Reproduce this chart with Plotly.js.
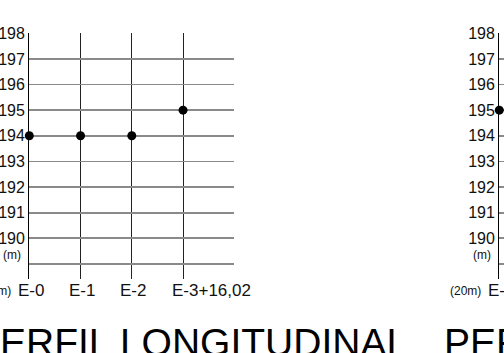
<!DOCTYPE html>
<html>
<head>
<meta charset="utf-8">
<script src="https://cdn.plot.ly/plotly-3.0.1.min.js"></script>
<style>html,body{margin:0;padding:0;background:#fff;}#chart{width:504px;height:353px;}</style>
</head>
<body>
<div id="chart"></div>
<script>
// Data
var stations = ['E-0', 'E-1', 'E-2', 'E-3+16,02'];
var stationPos = [0, 1, 2, 3];
var elevations = [194, 194, 194, 195];
var rightStations = ['E-0'];
var rightPos = [0];
var rightElevations = [195];
var yTickVals = [189, 190, 191, 192, 193, 194, 195, 196, 197, 198];
var yTickText = ['', '190', '191', '192', '193', '194', '195', '196', '197', '198'];
var titleText = 'PERFIL LONGITUDINAL';
var yUnit = '(m)';
var xUnit = '(20m)';

var W = 504, H = 353;
var ax1 = 29.3, ax1r = 234.3, ax2 = 499.3;
var pxPerX = (ax1r - ax1) / 4;
var yTop = 33.3, yBot = 279.3;
var font = '"Liberation Sans", Arial, sans-serif';

var yDom = [1 - yBot / H, 1 - yTop / H];
var yRange = [188.4, 198];

var traces = [
  {x: stationPos, y: elevations, xaxis: 'x', yaxis: 'y', mode: 'markers', type: 'scatter',
   marker: {color: '#000', size: 9}, cliponaxis: false, hoverinfo: 'skip'},
  {x: rightPos, y: rightElevations, xaxis: 'x2', yaxis: 'y2', mode: 'markers', type: 'scatter',
   marker: {color: '#000', size: 9}, cliponaxis: false, hoverinfo: 'skip'}
];

function yAxis(anchor) {
  return {
    domain: yDom, range: yRange, anchor: anchor,
    tickmode: 'array', tickvals: yTickVals, ticktext: yTickText,
    showgrid: true, gridcolor: '#8a8a8a', gridwidth: 1.8,
    showline: true, linecolor: '#000', linewidth: 1.2,
    ticks: '', ticklabelstandoff: 1.5,
    tickfont: {family: font, size: 16, color: '#111'},
    zeroline: false, fixedrange: true
  };
}
function xAxis(domain, range, anchor) {
  return {
    domain: domain, range: range, anchor: anchor,
    tickmode: 'array', tickvals: stationPos, showticklabels: false,
    showgrid: true, gridcolor: '#222', gridwidth: 1.1,
    showline: false, zeroline: false, ticks: '', fixedrange: true
  };
}

var annotations = [];
function panelAnnots(axisPx, labels, positions, xref) {
  labels.forEach(function (lab, i) {
    annotations.push({xref: xref, yref: 'paper', x: positions[i], y: 1 - 290 / H,
      xanchor: 'left', yanchor: 'middle', xshift: -13.5, text: lab, showarrow: false,
      font: {family: font, size: 17, color: '#111'}});
  });
  annotations.push({xref: 'paper', yref: 'paper', x: (axisPx - 16) / W, y: 1 - 291 / H,
    xanchor: 'right', yanchor: 'middle', text: xUnit, showarrow: false,
    font: {family: font, size: 12, color: '#111'}});
  annotations.push({xref: 'paper', yref: 'paper', x: (axisPx - 17) / W, y: 1 - 255 / H,
    xanchor: 'center', yanchor: 'middle', text: yUnit, showarrow: false,
    font: {family: font, size: 12, color: '#111'}});
  annotations.push({xref: 'paper', yref: 'paper', x: (axisPx - 57) / W, y: 1 - 319 / H,
    xanchor: 'left', yanchor: 'top', text: titleText, showarrow: false,
    font: {family: font, size: 39, color: '#000'}});
}
panelAnnots(ax1, stations, stationPos, 'x');
panelAnnots(ax2, rightStations, rightPos, 'x2');

var layout = {
  width: W, height: H,
  margin: {l: 0, r: 0, t: 0, b: 0},
  paper_bgcolor: '#fff', plot_bgcolor: 'rgba(0,0,0,0)',
  showlegend: false,
  xaxis: xAxis([ax1 / W, ax1r / W], [0, 4], 'y'),
  yaxis: yAxis('x'),
  xaxis2: xAxis([ax2 / W, 1], [0, (W - ax2) / pxPerX], 'y2'),
  yaxis2: yAxis('x2'),
  annotations: annotations
};

Plotly.newPlot('chart', traces, layout, {staticPlot: true, displayModeBar: false});
</script>
</body>
</html>
